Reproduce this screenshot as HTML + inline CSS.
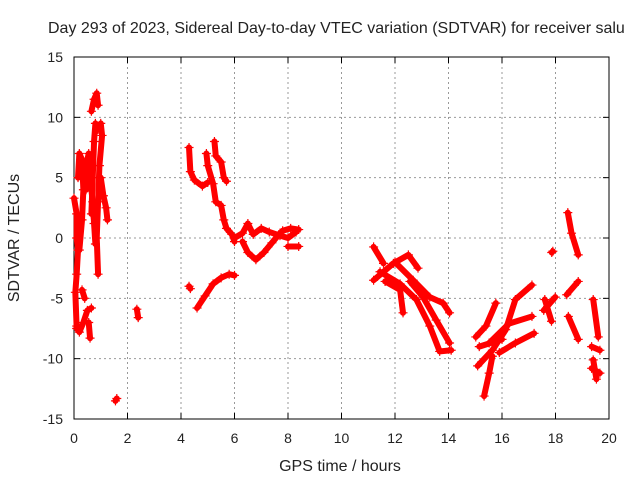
<!DOCTYPE html>
<html><head><meta charset="utf-8"><style>
body{margin:0;background:#fff}
svg text{font-family:"Liberation Sans",sans-serif;font-size:14px;fill:#222}
svg text.big{font-size:16px}
</style></head><body>
<svg id="chart" width="640" height="480" viewBox="0 0 640 480" xmlns="http://www.w3.org/2000/svg">
<text class="big" x="48" y="33">Day 293 of 2023, Sidereal Day-to-day VTEC variation (SDTVAR) for receiver salu</text>
<g id="grid"></g>
<g id="axes"></g>
<g id="marks"></g>
<text class="big" x="340" y="471" text-anchor="middle">GPS time / hours</text>
<text class="big" transform="translate(19,238) rotate(-90)" text-anchor="middle">SDTVAR / TECUs</text>
</svg>
<script>
const xTicks=[0,2,4,6,8,10,12,14,16,18,20];
const yTicks=[15,10,5,0,-5,-10,-15];
const tracks=[
[[0.0,3.3],[0.1,2],[0.1,0],[0.15,-1],[0.1,-3],[0.05,-4.5],[0.1,-7.5]],
[[0.15,5],[0.2,7],[0.3,6.5],[0.35,4],[0.3,1.5],[0.2,-1]],
[[0.45,4],[0.5,6.5],[0.55,7],[0.6,5],[0.7,3],[0.75,1.2],[0.8,-0.5]],
[[0.65,10.5],[0.75,11.5],[0.85,12],[0.9,11]],
[[0.65,2],[0.7,5],[0.75,8],[0.8,9.5]],
[[0.9,9],[1.0,9.5],[1.05,8.5],[0.95,6],[0.9,3],[0.85,0],[0.9,-3]],
[[1.0,5],[1.1,3.5],[1.2,2.5],[1.25,1.5]],
[[0.1,-7.3],[0.2,-7.8],[0.35,-7],[0.5,-6],[0.65,-5.8]],
[[0.55,-7],[0.6,-8.3]],
[[0.3,-4.3],[0.4,-5]],
[[1.55,-13.5],[1.6,-13.3]],
[[2.35,-5.9],[2.4,-6.6]],
[[4.3,-4],[4.35,-4.2]],
[[4.3,7.5],[4.35,5.5],[4.5,4.8],[4.8,4.3],[5.0,4.6]],
[[4.95,7],[5.0,6],[5.2,4.5],[5.3,3],[5.5,2.7],[5.6,1.5],[5.7,0.8],[5.9,0.3],[6.0,-0.3]],
[[5.25,8],[5.3,6.8],[5.5,6.3],[5.6,5],[5.7,4.7]],
[[4.6,-5.8],[4.9,-4.8],[5.2,-3.8],[5.5,-3.3],[5.8,-3],[6.0,-3.1]],
[[6.0,0],[6.3,0.4],[6.5,1.2],[6.7,0.3],[7.0,0.8],[7.3,0.5],[7.7,0.2],[8.0,0],[8.3,0.5]],
[[6.3,-0.3],[6.5,-1.2],[6.8,-1.8],[7.1,-1.2],[7.4,-0.4],[7.7,0.4]],
[[7.8,0.6],[8.1,0.8],[8.4,0.7]],
[[8.0,-0.7],[8.4,-0.7]],
[[11.2,-0.74],[11.57,-2.1]],
[[11.2,-3.5],[11.94,-2.1],[12.5,-1.4],[12.86,-2.5]],
[[11.63,-3.6],[12.19,-4.3],[12.3,-6.2]],
[[11.44,-2.8],[12.19,-3.8],[12.8,-5.1],[13.3,-7.3],[13.67,-9.4],[14.1,-9.3]],
[[12.0,-2.0],[12.68,-3.5],[13.3,-4.9],[13.8,-5.4],[14.04,-6.2]],
[[12.56,-3.6],[13.05,-4.9],[13.54,-6.8],[14.04,-8.7]],
[[15.33,-13.1],[15.52,-11.2],[15.64,-9.8]],
[[15.02,-8.2],[15.4,-7.3],[15.77,-5.4]],
[[15.09,-10.6],[15.64,-9.3],[16.14,-7.6],[16.5,-5.1],[17.12,-3.9]],
[[15.52,-8.7],[16.26,-7.1],[17.12,-6.5]],
[[15.9,-9.5],[16.5,-8.7],[17.2,-7.9]],
[[15.15,-9.0],[16.0,-8.4]],
[[17.56,-6.0],[17.99,-4.9]],
[[17.6,-5.1],[17.85,-6.9]],
[[17.86,-1.2],[17.9,-1.1]],
[[18.46,2.1],[18.6,0.4],[18.85,-1.4]],
[[18.42,-4.7],[18.85,-3.6]],
[[18.48,-6.5],[18.85,-8.4]],
[[19.41,-5.1],[19.6,-8.2]],
[[19.35,-9.0],[19.66,-9.3]],
[[19.41,-10.1],[19.53,-11.7]],
[[19.35,-10.8],[19.66,-11.2]]
];
const L=74,R=609,T=57,B=419;
const xs=v=>L+(v-0)/20*(R-L);
const ys=v=>B-(v+15)/30*(B-T);
const NS="http://www.w3.org/2000/svg";
function mk(tag,attrs,parent){const e=document.createElementNS(NS,tag);for(const k in attrs)e.setAttribute(k,attrs[k]);parent.appendChild(e);return e;}
const grid=document.getElementById('grid'),axes=document.getElementById('axes'),marks=document.getElementById('marks');
xTicks.forEach(t=>{const x=xs(t);
 if(t>0&&t<20){const g=mk('line',{x1:x,x2:x,y1:T,y2:B,stroke:'#999','stroke-dasharray':'2,3'},grid);}
 mk('line',{x1:x,x2:x,y1:B,y2:B-6,stroke:'#000'},axes);mk('line',{x1:x,x2:x,y1:T,y2:T+6,stroke:'#000'},axes);
 const tx=mk('text',{x:x,y:443,'text-anchor':'middle'},axes);tx.textContent=t;
 });
yTicks.forEach(t=>{const y=ys(t);
 if(t>-15&&t<15){const g=mk('line',{x1:L,x2:R,y1:y,y2:y,stroke:'#999','stroke-dasharray':'2,3'},grid);}
 mk('line',{x1:L,x2:L+6,y1:y,y2:y,stroke:'#000'},axes);mk('line',{x1:R,x2:R-6,y1:y,y2:y,stroke:'#000'},axes);
 const tx=mk('text',{x:63,y:y+5,'text-anchor':'end'},axes);tx.textContent=t;
 });
const fr=mk('rect',{x:L,y:T,width:R-L,height:B-T,fill:'none',stroke:'#000'},axes);

tracks.forEach(tr=>{
 const pts=tr.map(p=>xs(p[0])+','+ys(p[1])).join(' ');
 const pl=mk('polyline',{points:pts,fill:'none',stroke:'#f00','stroke-width':6,'stroke-linejoin':'round','stroke-linecap':'round'},marks);
 
 
 tr.forEach(p=>{const x=xs(p[0]),y=ys(p[1]);
  const m=mk('path',{d:`M${x-4.5} ${y}H${x+4.5}M${x} ${y-4.5}V${y+4.5}`,stroke:'#f00','stroke-width':1.2},marks);
  
  });
});
</script>
</body></html>
